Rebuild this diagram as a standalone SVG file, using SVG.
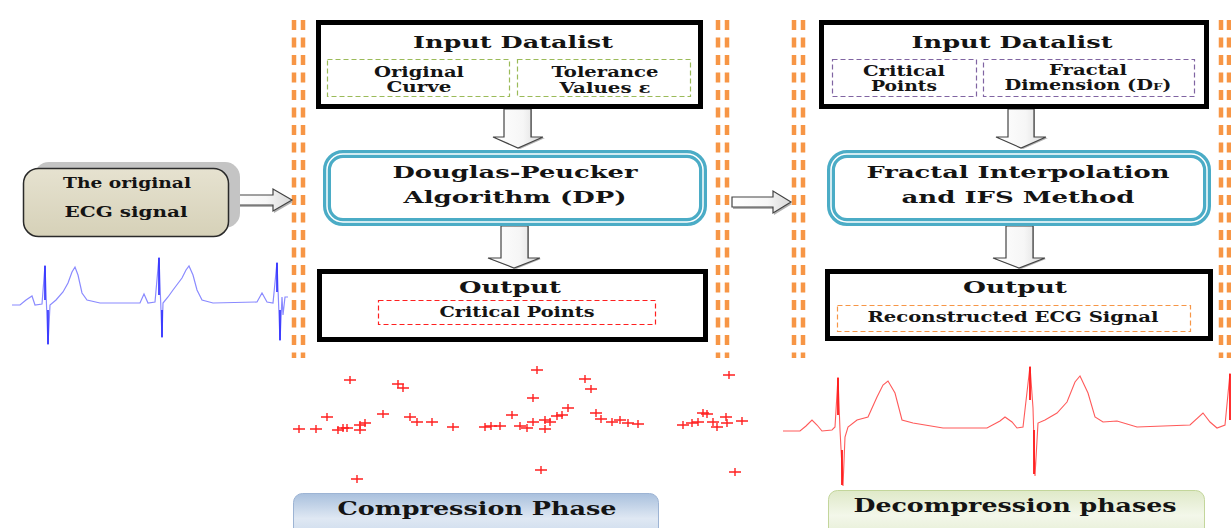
<svg xmlns="http://www.w3.org/2000/svg" xmlns:xlink="http://www.w3.org/1999/xlink" width="1231" height="528" viewBox="0 0 1231 528">
<style>
.t{font-family:"DejaVu Serif","Liberation Serif",serif;font-weight:bold;fill:#141414;text-anchor:middle}
.frame{fill:#fff;stroke:#000;stroke-width:5}
.proc{fill:#fff;stroke:#4BACC6;stroke-width:8}
.procin{fill:none;stroke:#fff;stroke-width:1.5}
.sep{stroke:#F79646;stroke-width:4.5;stroke-dasharray:10 7.5;fill:none}
.arr{fill:url(#ag);stroke:#444;stroke-width:1.2}
.arrs{fill:#b0b0b0;stroke:none}
.pt{stroke:#ff2020;stroke-width:1.4;fill:none}
</style>
<defs>
<linearGradient id="ag" x1="0" y1="0" x2="1" y2="0">
<stop offset="0" stop-color="#ffffff"/><stop offset="0.6" stop-color="#f6f6f6"/><stop offset="1" stop-color="#d8d8d8"/>
</linearGradient>
<linearGradient id="bg" x1="0" y1="0" x2="0" y2="1">
<stop offset="0" stop-color="#e6e2d0"/><stop offset="1" stop-color="#d6d1b8"/>
</linearGradient>
<linearGradient id="cg" x1="0" y1="0" x2="0" y2="1">
<stop offset="0" stop-color="#a9c0dd"/><stop offset="0.5" stop-color="#dfe8f3"/><stop offset="1" stop-color="#c4d5ea"/>
</linearGradient>
<linearGradient id="dg" x1="0" y1="0" x2="0" y2="1">
<stop offset="0" stop-color="#dfe9c8"/><stop offset="0.5" stop-color="#f3f7ea"/><stop offset="1" stop-color="#e3ecd0"/>
</linearGradient>
<path id="pt" class="pt" d="M-6,0H6M0,-4V4"/>
</defs>

<!-- separators -->
<g id="separators">
<line class="sep" x1="294" y1="20" x2="294" y2="358"/>
<line class="sep" x1="303" y1="20" x2="303" y2="358"/>
<line class="sep" x1="718" y1="20" x2="718" y2="358"/>
<line class="sep" x1="727" y1="20" x2="727" y2="358"/>
<line class="sep" x1="794" y1="20" x2="794" y2="358"/>
<line class="sep" x1="803" y1="20" x2="803" y2="358"/>
<line class="sep" x1="1221" y1="20" x2="1221" y2="358"/>
<line class="sep" x1="1229" y1="20" x2="1229" y2="358"/>
</g>

<!-- connectors -->
<g id="connectors">
<polygon class="arrs" points="229,197 274,197 274,191 293,202 274,213 274,207 229,207"/>
<polygon class="arr" points="228,195 273,195 273,189 292,200 273,211 273,205 228,205"/>
<polygon class="arrs" points="733,199 774,199 774,193 792,204 774,215 774,209 733,209"/>
<polygon class="arr" points="732,197 773,197 773,191 791,202 773,213 773,207 732,207"/>
<polygon class="arrs" points="505,109 532,109 532,138 545,138 520,149 495,138 505,138"/>
<polygon class="arr" points="504,109 531,109 531,137 543,137 518,148 493,137 504,137"/>
<polygon class="arrs" points="502,226 529,226 529,259 541,259 516,269 490,259 502,259"/>
<polygon class="arr" points="501,226 528,226 528,258 540,258 514,268 488,258 501,258"/>
<polygon class="arrs" points="1009,109 1035,109 1035,138 1048,138 1023,149 998,138 1009,138"/>
<polygon class="arr" points="1008,109 1034,109 1034,137 1046,137 1021,148 996,137 1008,137"/>
<polygon class="arrs" points="1007,226 1034,226 1034,259 1046,259 1021,269 995,259 1007,259"/>
<polygon class="arr" points="1006,226 1033,226 1033,258 1045,258 1019,268 993,258 1006,258"/>
</g>

<!-- original ECG node -->
<g id="original">
<rect x="34" y="162" width="206" height="66" rx="15" fill="#c4c4c4"/>
<rect x="23.5" y="168.5" width="205" height="68" rx="15" fill="url(#bg)" stroke="#2a2a2a" stroke-width="1.5"/>
<text class="t" x="127" y="188" font-size="14.5" textLength="128" lengthAdjust="spacingAndGlyphs">The original</text>
<text class="t" x="126" y="217" font-size="14.5" textLength="123" lengthAdjust="spacingAndGlyphs">ECG signal</text>
</g>

<g id="ecg-original" fill="none">
<polyline stroke="#8a8aff" stroke-width="1.2" points="12,305 20,305 26,300 32,296 35,305 42,304 45,265 48,345 50,305 56,300 63,292 68,283 72,272 75,267 78,275 82,293 87,300 100,303 140,303 144,294 148,303 155,302 159,257 162,338 163,303 168,297 173,290 182,278 186,270 189,266 193,275 197,290 202,300 213,303 257,302 262,293 267,302 273,303 277,262 280,341 282,297 283,315 285,297 288,297"/>
<path stroke="#2a2aff" stroke-width="1.6" d="M45,266V300M48,310V344M159,258V295M162,310V337M277,263V292M280,310V340"/>
</g>

<!-- compression phase nodes -->
<g id="input-dp">
<rect class="frame" x="318.5" y="22.5" width="382" height="84"/>
<text class="t" x="513" y="48" font-size="17" textLength="200" lengthAdjust="spacingAndGlyphs">Input Datalist</text>
<rect x="327.5" y="59.5" width="182" height="37" fill="none" stroke="#9bbb59" stroke-width="1.2" stroke-dasharray="5 3"/>
<rect x="517.5" y="59.5" width="173" height="37" fill="none" stroke="#9bbb59" stroke-width="1.2" stroke-dasharray="5 3"/>
<text class="t" x="419" y="77" font-size="14.5" textLength="90" lengthAdjust="spacingAndGlyphs">Original</text>
<text class="t" x="419" y="92" font-size="14.5" textLength="65" lengthAdjust="spacingAndGlyphs">Curve</text>
<text class="t" x="605" y="77" font-size="14.5" textLength="107" lengthAdjust="spacingAndGlyphs">Tolerance</text>
<text class="t" x="605" y="93" font-size="14.5" textLength="91" lengthAdjust="spacingAndGlyphs">Values ε</text>
</g>

<g id="dp">
<rect class="proc" x="327" y="154" width="376" height="68" rx="16"/>
<rect class="procin" x="327" y="154" width="376" height="68" rx="16"/>
<text class="t" x="515" y="178" font-size="17.5" textLength="245" lengthAdjust="spacingAndGlyphs">Douglas-Peucker</text>
<text class="t" x="515" y="203" font-size="17.5" textLength="223" lengthAdjust="spacingAndGlyphs">Algorithm (DP)</text>
</g>

<g id="output-dp">
<rect class="frame" x="319.5" y="271.5" width="386" height="68"/>
<text class="t" x="510" y="293" font-size="17.5" textLength="102" lengthAdjust="spacingAndGlyphs">Output</text>
<rect x="378.5" y="300.5" width="277" height="24" fill="none" stroke="#ff2020" stroke-width="1.2" stroke-dasharray="5 3"/>
<text class="t" x="517" y="317" font-size="14" textLength="155" lengthAdjust="spacingAndGlyphs">Critical Points</text>
</g>

<g id="critical-points">
<use xlink:href="#pt" x="350" y="380"/><use xlink:href="#pt" x="398" y="384"/><use xlink:href="#pt" x="403" y="388"/>
<use xlink:href="#pt" x="327" y="417"/><use xlink:href="#pt" x="299" y="429"/><use xlink:href="#pt" x="316" y="429"/>
<use xlink:href="#pt" x="338" y="430"/><use xlink:href="#pt" x="343" y="428"/><use xlink:href="#pt" x="347" y="428"/>
<use xlink:href="#pt" x="360" y="430"/><use xlink:href="#pt" x="360" y="425"/><use xlink:href="#pt" x="365" y="423"/>
<use xlink:href="#pt" x="383" y="414"/><use xlink:href="#pt" x="410" y="417"/><use xlink:href="#pt" x="417" y="422"/>
<use xlink:href="#pt" x="432" y="422"/><use xlink:href="#pt" x="453" y="427"/><use xlink:href="#pt" x="485" y="427"/>
<use xlink:href="#pt" x="491" y="426"/><use xlink:href="#pt" x="500" y="426"/><use xlink:href="#pt" x="512" y="415"/>
<use xlink:href="#pt" x="520" y="426"/><use xlink:href="#pt" x="527" y="428"/><use xlink:href="#pt" x="533" y="422"/>
<use xlink:href="#pt" x="545" y="420"/><use xlink:href="#pt" x="545" y="429"/><use xlink:href="#pt" x="550" y="422"/>
<use xlink:href="#pt" x="557" y="416"/><use xlink:href="#pt" x="562" y="415"/><use xlink:href="#pt" x="537" y="370"/>
<use xlink:href="#pt" x="533" y="398"/><use xlink:href="#pt" x="568" y="408"/><use xlink:href="#pt" x="585" y="379"/>
<use xlink:href="#pt" x="591" y="389"/><use xlink:href="#pt" x="596" y="413"/><use xlink:href="#pt" x="601" y="419"/>
<use xlink:href="#pt" x="612" y="422"/><use xlink:href="#pt" x="620" y="420"/><use xlink:href="#pt" x="628" y="423"/>
<use xlink:href="#pt" x="638" y="424"/><use xlink:href="#pt" x="357" y="479"/><use xlink:href="#pt" x="541" y="470"/>
<use xlink:href="#pt" x="683" y="425"/><use xlink:href="#pt" x="692" y="423"/><use xlink:href="#pt" x="698" y="422"/>
<use xlink:href="#pt" x="703" y="413"/><use xlink:href="#pt" x="707" y="414"/><use xlink:href="#pt" x="713" y="422"/>
<use xlink:href="#pt" x="717" y="427"/><use xlink:href="#pt" x="726" y="417"/><use xlink:href="#pt" x="727" y="423"/>
<use xlink:href="#pt" x="742" y="421"/><use xlink:href="#pt" x="729" y="375"/><use xlink:href="#pt" x="735" y="472"/>
</g>

<g id="compression-label">
<rect x="293.5" y="493.5" width="365" height="50" rx="9" fill="url(#cg)" stroke="#9db4d4" stroke-width="1"/>
<text class="t" x="477" y="515" font-size="18" textLength="279" lengthAdjust="spacingAndGlyphs">Compression Phase</text>
</g>

<!-- decompression phase nodes -->
<g id="input-fi">
<rect class="frame" x="821.5" y="22.5" width="385" height="84"/>
<text class="t" x="1012" y="48" font-size="17" textLength="201" lengthAdjust="spacingAndGlyphs">Input Datalist</text>
<rect x="832.5" y="59.5" width="144" height="37" fill="none" stroke="#8064a2" stroke-width="1.2" stroke-dasharray="5 3"/>
<rect x="983.5" y="59.5" width="211" height="37" fill="none" stroke="#8064a2" stroke-width="1.2" stroke-dasharray="5 3"/>
<text class="t" x="904" y="76" font-size="14.5" textLength="82" lengthAdjust="spacingAndGlyphs">Critical</text>
<text class="t" x="904" y="91" font-size="14.5" textLength="66" lengthAdjust="spacingAndGlyphs">Points</text>
<text class="t" x="1088" y="75" font-size="14.5" textLength="78" lengthAdjust="spacingAndGlyphs">Fractal</text>
<text class="t" x="1088" y="90" font-size="14.5" textLength="167" lengthAdjust="spacingAndGlyphs">Dimension (D<tspan font-size="10">F</tspan>)</text>
</g>

<g id="fi">
<rect class="proc" x="831" y="154" width="376" height="68" rx="16"/>
<rect class="procin" x="831" y="154" width="376" height="68" rx="16"/>
<text class="t" x="1018" y="178" font-size="17.5" textLength="303" lengthAdjust="spacingAndGlyphs">Fractal Interpolation</text>
<text class="t" x="1018" y="203" font-size="17.5" textLength="233" lengthAdjust="spacingAndGlyphs">and IFS Method</text>
</g>

<g id="output-fi">
<rect class="frame" x="827.5" y="271.5" width="383" height="67"/>
<text class="t" x="1015" y="293" font-size="17.5" textLength="104" lengthAdjust="spacingAndGlyphs">Output</text>
<rect x="837.5" y="305.5" width="353" height="26" fill="none" stroke="#f79646" stroke-width="1.2" stroke-dasharray="5 3"/>
<text class="t" x="1013" y="322" font-size="14.5" textLength="291" lengthAdjust="spacingAndGlyphs">Reconstructed ECG Signal</text>
</g>

<g id="ecg-reconstructed" fill="none">
<polyline stroke="#ff5a5a" stroke-width="1.1" points="783,431 800,431 806,426 812,420 817,425 822,431 832,430 835,427 838,377 840,430 843,486 845,437 848,427 857,420 868,417 877,397 883,385 888,381 895,393 902,420 913,423 943,428 987,428 1000,421 1005,417 1012,422 1017,428 1023,427 1030,366 1033,408 1035,476 1038,423 1045,420 1057,413 1067,402 1075,382 1080,376 1088,393 1095,417 1103,422 1117,421 1137,427 1190,425 1203,413 1210,422 1217,428 1225,425 1230,373"/>
<path stroke="#ff1a1a" stroke-width="1.8" d="M838,378V415M842,450V485M1030,367V400M1034,430V474M1230,374V420"/>
</g>

<g id="decompression-label">
<rect x="828.5" y="490.5" width="376" height="50" rx="9" fill="url(#dg)" stroke="#c3d69b" stroke-width="1"/>
<text class="t" x="1015" y="512" font-size="18" textLength="323" lengthAdjust="spacingAndGlyphs">Decompression phases</text>
</g>
</svg>
